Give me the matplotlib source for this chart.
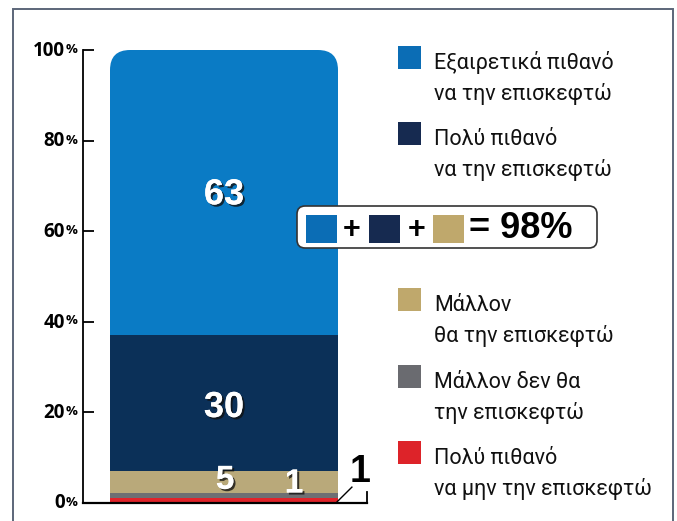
import matplotlib
matplotlib.use("Agg")
import matplotlib.pyplot as plt
from matplotlib.patches import Rectangle, FancyBboxPatch
import matplotlib.patheffects as pe

# ---- data ----
categories = ["Πολύ πιθανό να μην την επισκεφτώ", "Μάλλον δεν θα την επισκεφτώ",
              "Μάλλον θα την επισκεφτώ", "Πολύ πιθανό να την επισκεφτώ",
              "Εξαιρετικά πιθανό να την επισκεφτώ"]
values = [1, 1, 5, 30, 63]
bar_colors = ["#e1232a", "#6e6f73", "#b9a97a", "#0b3058", "#0a7bc5"]
legend_colors = ["#0b6db5", "#162a50", "#bfa86c", "#6a6b70", "#dd2329"]
legend_lines = [("Εξαιρετικά πιθανό", "να την επισκεφτώ"),
                ("Πολύ πιθανό", "να την επισκεφτώ"),
                ("Μάλλον", "θα την επισκεφτώ"),
                ("Μάλλον δεν θα", "την επισκεφτώ"),
                ("Πολύ πιθανό", "να μην την επισκεφτώ")]
ytick_values = [0, 20, 40, 60, 80, 100]
ytick_labels = ["0", "20", "40", "60", "80", "100"]
total_label = "= 98%"

W, H = 677, 521
fig = plt.figure(figsize=(W / 100, H / 100), dpi=100)
fig.patch.set_facecolor("white")

def fx(x):
    return x / W

def fy(y):
    return 1 - y / H

# frame
fig.patches.append(Rectangle((fx(13), fy(530)), fx(673) - fx(13), fy(9) - fy(530),
                             transform=fig.transFigure, fill=False,
                             edgecolor="#5c6679", lw=1.4, clip_on=False))

# axes: x from 83 to 367 px, y 0 at 502.5 px, 100 at 50 px
ax = fig.add_axes([fx(83), fy(502.5), fx(367) - fx(83), fy(50) - fy(502.5)])
ax.set_xlim(-0.5 - 27 / 228, 0.5 + 29 / 228)
ax.set_ylim(0, 100)
ax.patch.set_alpha(0)

bottom = 0
bars = []
for v, c in zip(values, bar_colors):
    b = ax.bar(0, v, width=1.0, bottom=bottom, color=c, linewidth=0, zorder=2)
    bars.append(b)
    bottom += v

# rounded top on the whole stack
ypx = (502.5 - 50) / 100.0
xpx = 228.0
clip = FancyBboxPatch((-0.5, -40), 1.0, 140,
                      boxstyle="round,pad=0,rounding_size=%f" % (20 / xpx),
                      mutation_aspect=xpx / ypx, transform=ax.transData,
                      facecolor="none", edgecolor="none")
for b in bars:
    for p in b.patches:
        p.set_clip_path(clip)

for s in ["top", "right", "bottom"]:
    ax.spines[s].set_visible(False)
ax.spines["left"].set_linewidth(1.3)
ax.spines["left"].set_color("black")
ax.plot([0, 1], [0, 0], transform=ax.transAxes, color="black", lw=1.6,
        clip_on=False, zorder=3)
ax.plot([1, 1], [0, 2.3], transform=ax.get_yaxis_transform(), color="black",
        lw=1.3, clip_on=False, zorder=3)
ax.set_xticks([])
ax.set_yticks(ytick_values)
ax.set_yticklabels([])
ax.tick_params(axis="y", direction="in", length=8, width=1.3, color="black")

tick_font = ["Open Sans", "DejaVu Sans"]
for v, lab in zip(ytick_values, ytick_labels):
    yy = 502.5 - v * ypx
    fig.text(fx(65), fy(yy + 1), lab, ha="right", va="center", fontsize=13.5,
             fontweight="bold", family=tick_font)
    fig.text(fx(65.5), fy(yy - 0.5), "%", ha="left", va="center", fontsize=9.5,
             fontweight="bold", family=tick_font)

# value labels inside bar
shadow = [pe.withSimplePatchShadow(offset=(1.5, -1.5), shadow_rgbFace="#111111", alpha=0.8),
          pe.Normal()]
num_font = ["Liberation Sans", "DejaVu Sans"]
cum = [sum(values[:i]) + values[i] / 2 for i in range(len(values))]
ax.text(0, cum[4] - 0.5, str(values[4]), ha="center", va="center", color="white",
        fontsize=26, fontweight="bold", family=num_font, path_effects=shadow, zorder=4)
ax.text(0, cum[3] - 1, str(values[3]), ha="center", va="center", color="white",
        fontsize=26, fontweight="bold", family=num_font, path_effects=shadow, zorder=4)
ax.text(0.005, 4.9, str(values[2]), ha="center", va="center", color="white",
        fontsize=24, fontweight="bold", family=num_font, path_effects=shadow, zorder=4)
ax.text(0.307, 4.1, str(values[1]), ha="center", va="center", color="white",
        fontsize=24, fontweight="bold", family=num_font, path_effects=shadow, zorder=4)
# outside label for red, with leader line
ax.plot([0.496, 0.561], [0.15, 3.4], color="black", lw=1.0, clip_on=False, zorder=5)
ax.text(0.596, 6.8, str(values[0]), ha="center", va="center", fontsize=27,
        fontweight="bold", family=num_font, color="black", zorder=5, clip_on=False)

# legend
leg_font = ["Roboto", "DejaVu Sans"]
sq_bottoms = [69, 145, 311, 388, 464]
for (l1, l2), c, yb in zip(legend_lines, legend_colors, sq_bottoms):
    fig.patches.append(Rectangle((fx(398), fy(yb)), fx(421) - fx(398), fy(yb - 23) - fy(yb),
                                 transform=fig.transFigure, facecolor=c, edgecolor="none"))
    fig.text(fx(434), fy(yb), l1, ha="left", va="baseline", fontsize=15.5,
             family=leg_font, color="#111111")
    fig.text(fx(434), fy(yb + 31), l2, ha="left", va="baseline", fontsize=15.5,
             family=leg_font, color="#111111")

# 98% box
box = FancyBboxPatch((fx(297), fy(248)), fx(597) - fx(297), fy(206) - fy(248),
                     boxstyle="round,pad=0,rounding_size=0.012",
                     mutation_aspect=W / H,
                     transform=fig.transFigure, facecolor="white",
                     edgecolor="#333333", lw=1.2, zorder=10)
fig.patches.append(box)
box_colors = [legend_colors[0], legend_colors[1], legend_colors[2]]
for x0, c in zip([306, 369, 433], box_colors):
    fig.patches.append(Rectangle((fx(x0), fy(243)), fx(x0 + 31) - fx(x0), fy(215) - fy(243),
                                 transform=fig.transFigure, facecolor=c, edgecolor="none",
                                 zorder=11))
for xp in [352, 417]:
    fig.text(fx(xp), fy(230), "+", ha="center", va="center", fontsize=22,
             fontweight="bold", family=num_font, zorder=12)
fig.text(fx(469), fy(229), total_label, ha="left", va="center", fontsize=26,
         fontweight="bold", family=num_font, zorder=12)

fig.savefig("out.png", dpi=100)
